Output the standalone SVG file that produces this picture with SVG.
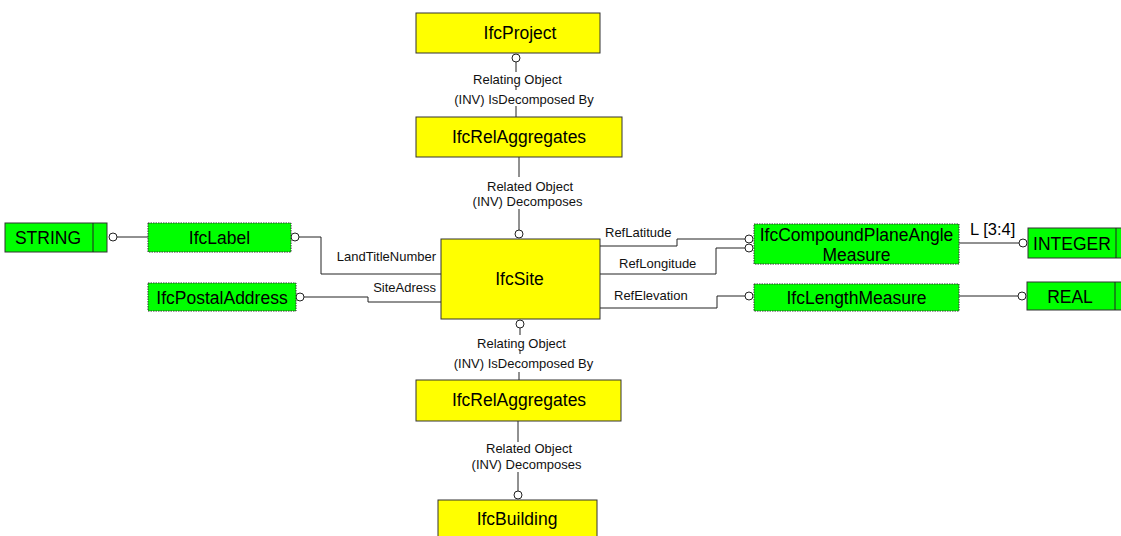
<svg xmlns="http://www.w3.org/2000/svg" width="1121" height="536" viewBox="0 0 1121 536">
<style>
text{font-family:"Liberation Sans",Arial,sans-serif;fill:#000}
.big{font-size:17.5px;text-anchor:middle}
.lbl{font-size:13px;fill:#111}
.mid{text-anchor:middle}
.end{text-anchor:end}
.ent{fill:#ffff00;stroke:#333;stroke-width:1}
.typ{fill:#00ff00;stroke:#333;stroke-width:1;stroke-dasharray:1.5,1}
.base{fill:#00ff00;stroke:#333;stroke-width:1}
.ln{fill:none;stroke:#222;stroke-width:1}
.dot{fill:#fff;stroke:#222;stroke-width:1}
</style>
<rect width="1121" height="536" fill="#fff"/>
<g id="connectors">
<line class="ln" x1="516" y1="62" x2="516" y2="72"/>
<line class="ln" x1="516" y1="86" x2="516" y2="90"/>
<line class="ln" x1="516" y1="106" x2="516" y2="117"/>
<circle class="dot" cx="516" cy="58" r="4"/>
<text class="lbl mid" x="517.5" y="83.5">Relating Object</text>
<text class="lbl mid" x="524" y="103.5">(INV) IsDecomposed By</text>
<line class="ln" x1="519" y1="157" x2="519" y2="177"/>
<line class="ln" x1="519" y1="209" x2="519" y2="230"/>
<circle class="dot" cx="519" cy="234" r="4"/>
<text class="lbl mid" x="530" y="190.5">Related Object</text>
<text class="lbl mid" x="527.5" y="205.5">(INV) Decomposes</text>
<line class="ln" x1="520" y1="328" x2="520" y2="335"/>
<line class="ln" x1="520" y1="350" x2="520" y2="354"/>
<line class="ln" x1="519" y1="372" x2="519" y2="380"/>
<circle class="dot" cx="520" cy="324" r="4"/>
<text class="lbl mid" x="521.5" y="347.5">Relating Object</text>
<text class="lbl mid" x="523.5" y="367.5">(INV) IsDecomposed By</text>
<line class="ln" x1="518" y1="421" x2="518" y2="442"/>
<line class="ln" x1="518" y1="472" x2="518" y2="491"/>
<circle class="dot" cx="518" cy="495" r="4"/>
<text class="lbl mid" x="529" y="452.5">Related Object</text>
<text class="lbl mid" x="526.5" y="468.5">(INV) Decomposes</text>
<line class="ln" x1="117" y1="237" x2="148" y2="237"/>
<circle class="dot" cx="113" cy="237" r="4"/>
<polyline class="ln" points="299,237 321,237 321,274 441,274"/>
<circle class="dot" cx="295" cy="237" r="4"/>
<text class="lbl end" x="436" y="261">LandTitleNumber</text>
<polyline class="ln" points="304,297 368,297 368,302 441,302"/>
<circle class="dot" cx="300" cy="297" r="4"/>
<text class="lbl end" x="436" y="291.5">SiteAdress</text>
<polyline class="ln" points="600,246 677,246 677,239 745,239"/>
<circle class="dot" cx="749" cy="239" r="4"/>
<text class="lbl" x="605" y="236.5">RefLatitude</text>
<polyline class="ln" points="600,274 716,274 716,248 745,248"/>
<circle class="dot" cx="749" cy="248" r="4"/>
<text class="lbl" x="619" y="267.5">RefLongitude</text>
<polyline class="ln" points="600,308 717,308 717,296 745,296"/>
<circle class="dot" cx="749" cy="296" r="4"/>
<text class="lbl" x="614" y="299.5">RefElevation</text>
<line class="ln" x1="959" y1="243" x2="1019" y2="243"/>
<circle class="dot" cx="1023" cy="243" r="4"/>
<text x="970" y="235" style="font-size:16.5px">L [3:4]</text>
<line class="ln" x1="959" y1="296" x2="1018" y2="296"/>
<circle class="dot" cx="1022" cy="296" r="4"/>
</g>
<g id="IfcProject">
<rect class="ent" x="416" y="13" width="184" height="40"/>
<text class="big" x="520" y="39">IfcProject</text>
</g>
<g id="IfcRelAggregates1">
<rect class="ent" x="416" y="117" width="206" height="40"/>
<text class="big" x="519" y="143">IfcRelAggregates</text>
</g>
<g id="IfcSite">
<rect class="ent" x="441" y="239" width="159" height="80"/>
<text class="big" x="519.5" y="285">IfcSite</text>
</g>
<g id="IfcRelAggregates2">
<rect class="ent" x="416" y="380" width="205" height="41"/>
<text class="big" x="519" y="406">IfcRelAggregates</text>
</g>
<g id="IfcBuilding">
<rect class="ent" x="438" y="500" width="159" height="45"/>
<text class="big" x="517" y="525">IfcBuilding</text>
</g>
<g id="STRING">
<rect class="base" x="5" y="223" width="102" height="29"/>
<line class="ln" x1="93" y1="223" x2="93" y2="252"/>
<text class="big" x="48" y="243.5">STRING</text>
</g>
<g id="IfcLabel">
<rect class="typ" x="148" y="223" width="143" height="29"/>
<text class="big" x="219.5" y="243.5">IfcLabel</text>
</g>
<g id="IfcPostalAddress">
<rect class="typ" x="148" y="283" width="148" height="28"/>
<text class="big" x="222" y="303.5">IfcPostalAddress</text>
</g>
<g id="IfcCompoundPlaneAngleMeasure">
<rect class="typ" x="754" y="224" width="205" height="40"/>
<text class="big" x="856.5" y="240.5">IfcCompoundPlaneAngle</text>
<text class="big" x="856.5" y="260.5">Measure</text>
</g>
<g id="IfcLengthMeasure">
<rect class="typ" x="754" y="284" width="205" height="27"/>
<text class="big" x="856.5" y="303.5">IfcLengthMeasure</text>
</g>
<g id="INTEGER">
<rect class="base" x="1028" y="228" width="100" height="30"/>
<line class="ln" x1="1116" y1="228" x2="1116" y2="258"/>
<text class="big" x="1072" y="249.5">INTEGER</text>
</g>
<g id="REAL">
<rect class="base" x="1027" y="282" width="100" height="28"/>
<line class="ln" x1="1115" y1="282" x2="1115" y2="310"/>
<text class="big" x="1070" y="302.5">REAL</text>
</g>
</svg>
